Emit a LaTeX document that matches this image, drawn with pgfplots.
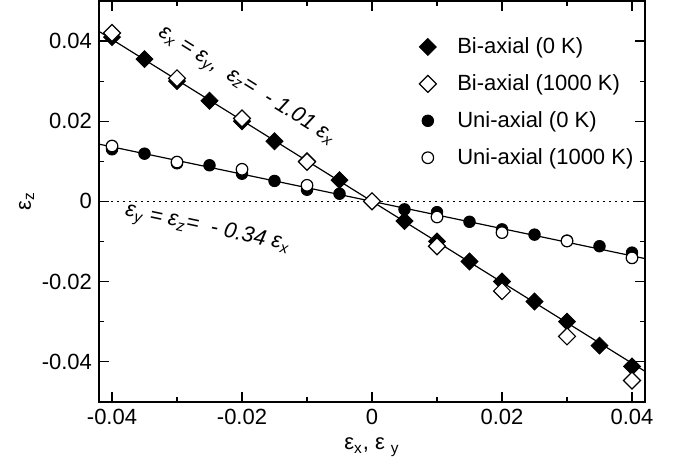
\documentclass[border=0pt]{standalone}
\usepackage{fontspec}
\setmainfont{Liberation Sans}
\usepackage{pgfplots}
\pgfplotsset{compat=1.18}
\begin{document}
\begin{tikzpicture}
\begin{axis}[
  scale only axis, width=273pt, height=200.35pt,
  at={(0,0)}, anchor=south west,
  xmin=-0.042, xmax=0.042, ymin=-0.05, ymax=0.05,
  xtick={-0.04,-0.02,0,0.02,0.04},
  ytick={-0.04,-0.02,0,0.02,0.04},
  minor xtick={-0.03,-0.01,0.01,0.03},
  minor ytick={-0.03,-0.01,0.01,0.03},
  tick align=inside, major tick length=5pt, minor tick length=2.5pt,
  scaled ticks=false,
  /pgf/number format/fixed, /pgf/number format/precision=2,
  /pgf/number format/assume math mode=true,
  tick label style={font=\fontsize{11}{13}\selectfont, black},
  axis line style={line width=1pt},
  every tick/.style={black, line width=0.6pt},
  xlabel={ε\textsubscript{x}, ε \textsubscript{y}},
  ylabel={ε\textsubscript{z}},
  ylabel style={yshift=-3pt},
  label style={font=\fontsize{11}{13}\selectfont},
  legend style={draw=none, fill=none, at={(0.575,0.93)}, anchor=north west,
    font=\fontsize{11}{13}\selectfont, row sep=5pt,
    /tikz/every odd column/.append style={column sep=8.5pt}},
  legend cell align=left,
]
% fit lines and zero line
\addplot[black, line width=0.6pt, forget plot] coordinates {(-0.042,0.04242) (0.042,-0.04242)};
\addplot[black, line width=0.6pt, forget plot] coordinates {(-0.042,0.01428) (0.042,-0.01428)};
\addplot[black, line width=0.8pt, dash pattern=on 0.8pt off 2.2pt, forget plot] coordinates {(-0.042,0) (0.042,0)};
% Uni-axial drawn below (forget plot), legend later
\addplot[only marks, mark=*, mark size=2.9pt, mark options={fill=black, draw=black}, forget plot] coordinates {
(-0.04,0.013) (-0.035,0.0119) (-0.03,0.0095) (-0.025,0.009) (-0.02,0.0069) (-0.015,0.0051) (-0.01,0.0029) (-0.005,0.0019) (0,0)
(0.005,-0.002) (0.01,-0.0027) (0.015,-0.0051) (0.02,-0.007) (0.025,-0.0083) (0.03,-0.0098) (0.035,-0.0112) (0.04,-0.0128)};
\addplot[only marks, mark=*, mark size=2.9pt, mark options={fill=white, draw=black, line width=0.6pt}, forget plot] coordinates {
(-0.04,0.0138) (-0.03,0.0098) (-0.02,0.008) (-0.01,0.004) (0,0) (0.01,-0.0039) (0.02,-0.0078) (0.03,-0.0099) (0.04,-0.0141)};
% Bi-axial
\addplot[only marks, mark=square*, mark size=3pt, mark options={rotate=45, fill=black, draw=black}] coordinates {
(-0.04,0.041) (-0.035,0.0355) (-0.03,0.030) (-0.025,0.0251) (-0.02,0.020) (-0.015,0.015) (-0.01,0.010) (-0.005,0.0053) (0,0)
(0.005,-0.0049) (0.01,-0.010) (0.015,-0.015) (0.02,-0.020) (0.025,-0.025) (0.03,-0.030) (0.035,-0.036) (0.04,-0.0412)};
\addlegendentry{Bi-axial (0 K)}
\addplot[only marks, mark=square*, mark size=3pt, mark options={rotate=45, fill=white, draw=black, line width=0.6pt}] coordinates {
(-0.04,0.042) (-0.03,0.0307) (-0.02,0.0207) (-0.01,0.0099) (0,0) (0.01,-0.0112) (0.02,-0.0224) (0.03,-0.0337) (0.04,-0.0447)};
\addlegendentry{Bi-axial (1000 K)}
\addlegendimage{only marks, mark=*, mark size=2.9pt, mark options={fill=black, draw=black}}
\addlegendentry{Uni-axial (0 K)}
\addlegendimage{only marks, mark=*, mark size=2.9pt, mark options={fill=white, draw=black, line width=0.6pt}}
\addlegendentry{Uni-axial (1000 K)}
% annotations
\node[rotate=-32, font=\fontsize{11}{13}\selectfont\itshape] at (axis cs:-0.0193,0.0288)
  {ε\textsubscript{x} = ε\textsubscript{y},\ \ ε\textsubscript{z}= \ - 1.01 ε\textsubscript{x}};
\node[rotate=-12, font=\fontsize{11}{13}\selectfont\itshape] at (axis cs:-0.0253,-0.0069)
  {ε\textsubscript{y} = ε\textsubscript{z}= \ - 0.34 ε\textsubscript{x}};
\end{axis}
\path[use as bounding box] (-49.5pt,-32.15pt) rectangle (292.5pt,200.35pt);
\end{tikzpicture}
\end{document}
